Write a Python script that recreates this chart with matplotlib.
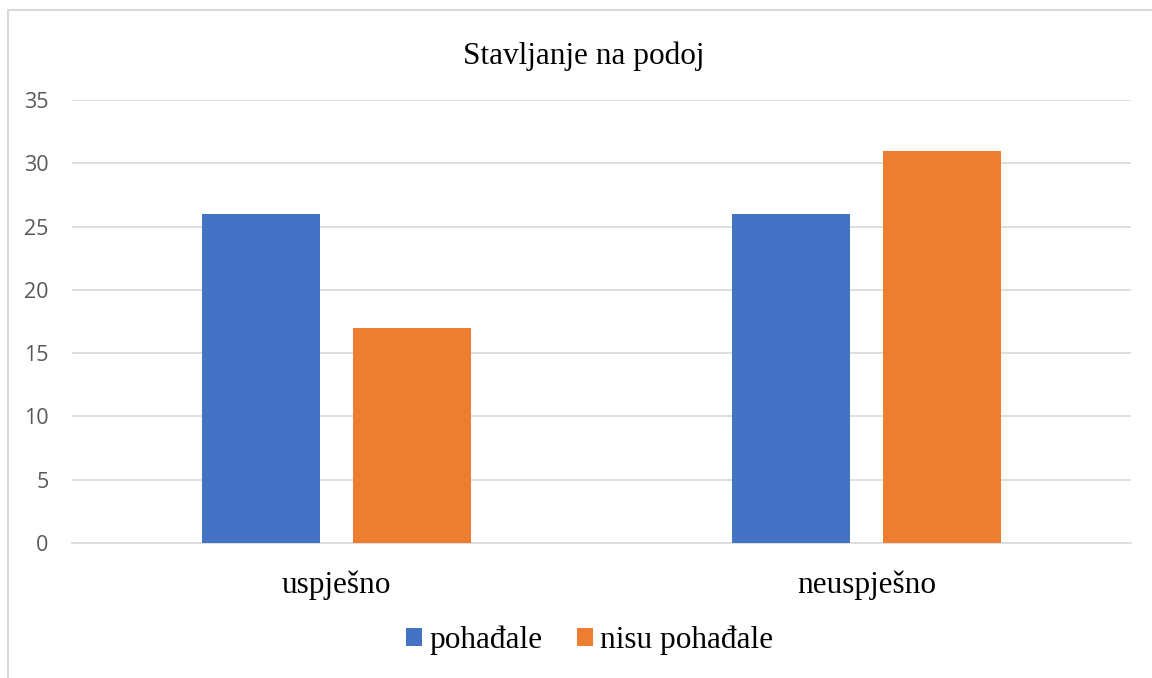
import numpy as np
import matplotlib.pyplot as plt
from matplotlib.patches import Rectangle

# data
categories = ['uspješno', 'neuspješno']
series_names = ['pohađale', 'nisu pohađale']
pohadale = [26, 26]
nisu_pohadale = [17, 31]
colors = ['#4472C4', '#ED7D31']

fig = plt.figure(figsize=(11.52, 6.78), dpi=100)
ax = fig.add_axes([0.0625, 0.1991, 0.9193, 0.6534])

x = np.arange(len(categories))
w = 0.223
off = 0.1425
ax.bar(x - off, pohadale, w, color=colors[0], label=series_names[0], zorder=3)
ax.bar(x + off, nisu_pohadale, w, color=colors[1], label=series_names[1], zorder=3)

ax.set_xlim(-0.5, 1.5)
ax.set_ylim(0, 35)
ax.set_yticks(range(0, 36, 5))
ax.yaxis.grid(True, color='#d9d9d9', lw=1.2, zorder=0)
for s in ['top', 'right', 'left']:
    ax.spines[s].set_visible(False)
ax.spines['bottom'].set_color('#d9d9d9')
ax.spines['bottom'].set_linewidth(1.2)

ax.set_xticks(x)
ax.set_xticklabels(categories, family='Liberation Serif', fontsize=22.5)
ax.tick_params(axis='x', length=0, pad=20)
ax.tick_params(axis='y', length=0, pad=17, labelcolor='#595959', labelsize=15.5)
for lbl in ax.get_yticklabels():
    lbl.set_family('Open Sans')

fig.text(0.507, 0.917, 'Stavljanje na podoj', family='Liberation Serif',
         fontsize=22.5, ha='center', va='center')

fig.legend(loc='center', bbox_to_anchor=(0.512, 0.055), ncol=2, frameon=False,
           prop={'family': 'Liberation Serif', 'size': 22.5},
           handlelength=0.5, handleheight=0.5, handletextpad=0.25,
           columnspacing=1.1)

fig.patches.append(Rectangle((0.0069, -0.05), 1.1, 1.035, transform=fig.transFigure,
                             fill=False, edgecolor='#d9d9d9', lw=1.5))

fig.savefig('out.png', dpi=100)
